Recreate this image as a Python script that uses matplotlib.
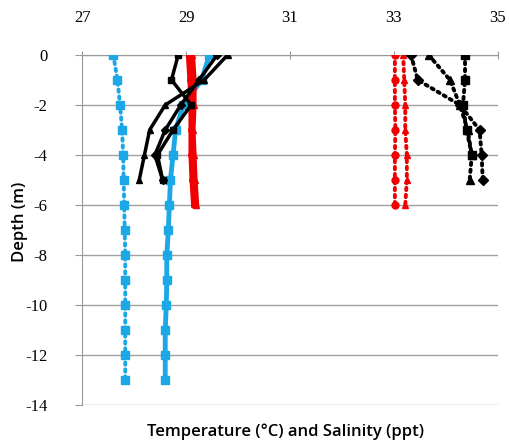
import numpy as np
import matplotlib.pyplot as plt

plt.rcParams["font.family"] = "Liberation Serif"

# depths (m)
d6 = [0, -1, -2, -3, -4, -5, -6]
d5 = [0, -1, -2, -3, -4, -5]
d13 = [0, -1, -2, -3, -4, -5, -6, -7, -8, -9, -10, -11, -12, -13]

# temperature profiles
temp_blue_deep = [27.6, 27.68, 27.73, 27.77, 27.79, 27.8, 27.81, 27.82, 27.83, 27.83, 27.83, 27.83, 27.83, 27.83]
temp_blue_solid = [29.45, 29.3, 28.95, 28.8, 28.75, 28.7, 28.68, 28.66, 28.63, 28.63, 28.62, 28.6, 28.6, 28.6]
temp_red_a = [29.05, 29.08, 29.1, 29.1, 29.1, 29.12, 29.15]
temp_red_b = [29.12, 29.15, 29.15, 29.13, 29.15, 29.17, 29.2]
temp_blk_sq = [28.85, 28.72, 29.1, 28.75, 28.45, 28.55]
temp_blk_tri = [29.8, 29.35, 28.6, 28.3, 28.2, 28.1]
temp_blk_dia = [29.6, 29.25, 28.9, 28.6, 28.4, 28.55]

# salinity profiles
sal_red_a = [33.02, 33.02, 33.02, 33.03, 33.02, 33.02, 33.02]
sal_red_b = [33.18, 33.2, 33.22, 33.22, 33.25, 33.25, 33.22]
sal_blk_dia = [33.33, 33.46, 34.27, 34.65, 34.69, 34.71]
sal_blk_tri = [33.67, 34.08, 34.27, 34.42, 34.5, 34.46]
sal_blk_sq = [34.37, 34.37, 34.33, 34.4, 34.5]
d_sq = [0, -1, -2, -3, -4]

xticks = [27, 29, 31, 33, 35]
yticks = [0, -2, -4, -6, -8, -10, -12, -14]

blue = "#1ca7e6"
fig = plt.figure(figsize=(5.1, 4.43), dpi=100)
ax = fig.add_axes([0.161, 0.086, 0.815, 0.790])

def dotted(x, y, c, m, ms=5):
    ax.plot(x, y, linestyle=(0, (0.6, 1.2)), lw=2.8, color=c, marker=m, ms=ms,
            dash_capstyle="round", zorder=3)

# temperature
dotted(temp_blue_deep, d13, blue, "s", 5.5)
ax.plot(temp_blue_solid, d13, "-", lw=3.5, color=blue, marker="s", ms=5.5, zorder=3)
ax.plot(temp_red_a, d6, "-", lw=4, color="#f00000", marker="o", ms=4, zorder=4)
ax.plot(temp_red_b, d6, "-", lw=4, color="#f00000", marker="^", ms=4, zorder=4)
ax.plot(temp_blk_sq, d5, "-", lw=2.5, color="black", marker="s", ms=5, zorder=5)
ax.plot(temp_blk_tri, d5, "-", lw=2.5, color="black", marker="^", ms=5, zorder=5)
ax.plot(temp_blk_dia, d5, "-", lw=2.5, color="black", marker="D", ms=4, zorder=5)

# salinity
dotted(sal_red_a, d6, "#f00000", "o", 5)
dotted(sal_red_b, d6, "#f00000", "^", 5)
dotted(sal_blk_dia, d5, "black", "D", 5)
dotted(sal_blk_tri, d5, "black", "^", 6)
dotted(sal_blk_sq, d_sq, "black", "s", 6)

ax.set_xlim(27, 35)
ax.set_ylim(-14, 0)
ax.set_xticks(xticks)
ax.set_yticks(yticks)
ax.set_yticklabels([str(v) for v in yticks])
ax.xaxis.tick_top()
ax.tick_params(axis="x", direction="inout", length=6, color="#999999", labelsize=12, pad=18)
ax.tick_params(axis="y", direction="out", length=5, color="#999999", labelsize=12, pad=20)
ax.grid(axis="y", color="#a0a0a0", lw=1)
ax.set_axisbelow(True)
for s in ["right", "bottom"]:
    ax.spines[s].set_visible(False)
for s in ["left", "top"]:
    ax.spines[s].set_color("#999999")

fig.text(0.56, 0.025, "Temperature (\u00b0C) and Salinity (ppt)", ha="center", va="center",
         fontsize=12, fontweight="semibold", family="Open Sans")
fig.text(0.04, 0.5, "Depth (m)", ha="center", va="center", rotation=90,
         fontsize=12, fontweight="semibold", family="Open Sans")

plt.savefig("out.png", dpi=100)
